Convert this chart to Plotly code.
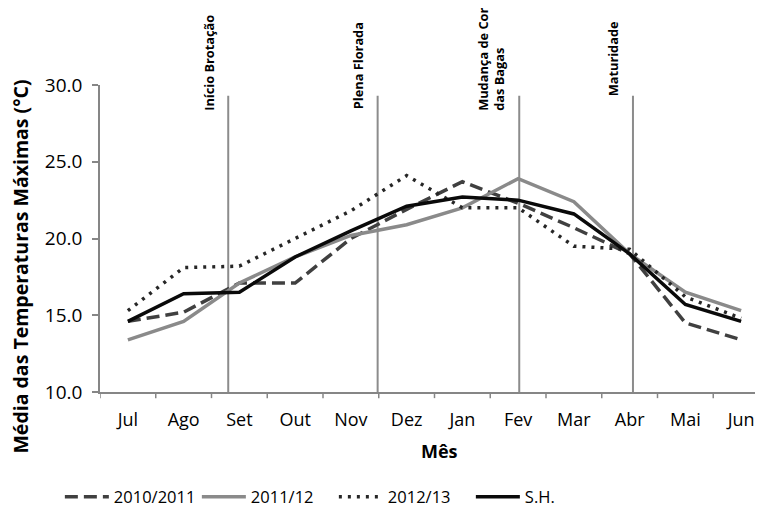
import plotly.graph_objects as go

meses = ["Jul", "Ago", "Set", "Out", "Nov", "Dez", "Jan", "Fev", "Mar", "Abr", "Mai", "Jun"]

t_2010_2011 = [14.6, 15.2, 17.1, 17.1, 20.0, 21.9, 23.7, 22.3, 20.7, 19.0, 14.5, 13.4]
t_2011_12   = [13.4, 14.6, 17.1, 18.8, 20.2, 20.9, 22.0, 23.9, 22.4, 19.0, 16.5, 15.3]
t_2012_13   = [15.3, 18.1, 18.2, 20.0, 21.8, 24.1, 22.0, 22.0, 19.5, 19.3, 16.2, 14.8]
t_sh        = [14.6, 16.4, 16.5, 18.8, 20.5, 22.1, 22.7, 22.5, 21.6, 19.0, 15.7, 14.6]

# fases fenológicas (posição em meses a partir de Jul = 0)
fases = ["Início Brotação", "Plena Florada", "Mudança de Cor<br>das Bagas", "Maturidade"]
fases_pos = [1.80, 4.48, 7.02, 9.06]
fases_base = [0.91, 0.915, 0.91, 0.958]   # base do texto (fração da área do gráfico)

FONT = "Open Sans"
AXIS = "#868686"

fig = go.Figure()

series = [
    ("2010/2011", t_2010_2011, dict(color="#404040", width=3.5, dash="13px,6px")),
    ("2011/12",   t_2011_12,   dict(color="#8a8a8a", width=3.5)),
    ("2012/13",   t_2012_13,   dict(color="#262626", width=3.5, dash="3px,6px")),
    ("S.H.",      t_sh,        dict(color="#0a0a0a", width=3.5)),
]
for name, vals, line in series:
    fig.add_trace(go.Scatter(
        x=list(range(len(meses))), y=vals, name=name, mode="lines", line=line,
    ))

# linhas verticais das fases + rótulos
for txt, pos, base in zip(fases, fases_pos, fases_base):
    fig.add_shape(type="line", xref="x", yref="y", x0=pos, x1=pos, y0=10, y1=29.3,
                  line=dict(color="#8c8c8c", width=2), layer="below")
    fig.add_annotation(text=f"<b>{txt}</b>", xref="x", yref="paper", x=pos, y=base,
                       xanchor="right", yanchor="bottom", xshift=-9, textangle=-90,
                       align="left", showarrow=False,
                       font=dict(family=FONT, size=12.8, color="#000000"))

fig.add_annotation(text="<b>Média das Temperaturas Máximas (°C)</b>", xref="paper", yref="paper",
                   x=-0.119, y=0.41, xanchor="center", yanchor="middle", textangle=-90,
                   showarrow=False, font=dict(family=FONT, size=19.5, color="#000000"))
fig.add_annotation(text="<b>Mês</b>", xref="paper", yref="paper",
                   x=0.508, y=-0.192, xanchor="center", yanchor="middle",
                   showarrow=False, font=dict(family=FONT, size=18, color="#000000"))

# a página tem margem de 8px; as margens compensam esse deslocamento
fig.update_layout(
    width=763, height=526,
    margin=dict(l=92, r=2, t=77, b=142),
    paper_bgcolor="white", plot_bgcolor="white",
    font=dict(family=FONT, size=17, color="#000000"),
    legend=dict(orientation="h", x=-0.06, y=-0.342, xanchor="left", yanchor="middle",
                font=dict(family=FONT, size=16.5), itemwidth=44,
                entrywidth=78, entrywidthmode="pixels"),
)
fig.update_xaxes(
    type="linear", range=[-0.5, 11.5],
    tickvals=list(range(len(meses))), ticktext=meses, ticks="",
    tickfont=dict(size=18),
    showline=True, linecolor=AXIS, linewidth=1.5, showgrid=False, zeroline=False,
    ticklabelstandoff=11,
)
fig.update_yaxes(
    range=[10, 30], tickvals=[10, 15, 20, 25, 30], tickformat=".1f",
    ticks="outside", ticklen=6, tickcolor=AXIS, tickwidth=1.5,
    tickfont=dict(size=19),
    showline=True, linecolor=AXIS, linewidth=1.5, showgrid=False, zeroline=False,
    ticklabelstandoff=6,
)

# marcas do eixo x entre as categorias (limites dos meses)
for i in range(len(meses) + 1):
    b = i - 0.5
    fig.add_shape(type="line", xref="x", yref="paper", x0=b, x1=b, y0=0, y1=-0.02,
                  line=dict(color=AXIS, width=1.5))

fig.write_html("out.html")
